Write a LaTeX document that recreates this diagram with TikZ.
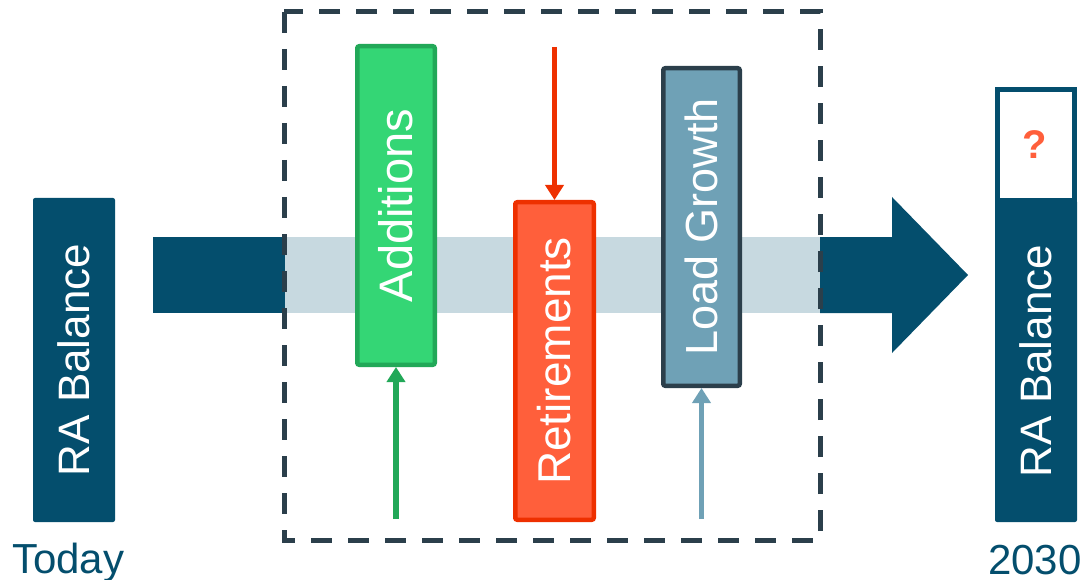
\documentclass[tikz,border=0pt]{standalone}
\usepackage{fontspec}
\setmainfont{Liberation Sans}
\usetikzlibrary{arrows.meta}
\definecolor{darkteal}{HTML}{044E6D}
\definecolor{lightbar}{HTML}{C7D9E0}
\definecolor{dashcol}{HTML}{2B3F4B}
\definecolor{addfill}{HTML}{34D675}
\definecolor{addline}{HTML}{22A858}
\definecolor{retfill}{HTML}{FF5F3B}
\definecolor{retline}{HTML}{EE3000}
\definecolor{loadfill}{HTML}{6FA1B6}
\definecolor{loadline}{HTML}{2B3F4B}
\tikzset{
  bigtext/.style={font=\fontsize{44}{50}\selectfont, text=white, rotate=90, inner sep=0pt},
  balbox/.style={fill=darkteal, rounded corners=2pt, minimum width=82pt, inner sep=0pt},
  stepbox/.style={line width=4.5pt, rounded corners=2pt, inner sep=0pt},
  flowarrow/.style={line width=5.5pt, -{Triangle[width=18pt,length=15pt]}},
  yearlabel/.style={font=\fontsize{42}{50}\selectfont, text=darkteal, anchor=base west, inner sep=0pt}
}
\begin{document}
\begin{tikzpicture}[x=1pt,y=-1pt]
\useasboundingbox (0,0) rectangle (1089,580);
% flow bar
\fill[darkteal] (153,237) rectangle (285,313);
\fill[lightbar] (285,237) rectangle (820,313);
\fill[darkteal] (820,237) -- (892,237) -- (892,197) -- (968,275) -- (892,353) -- (892,313) -- (820,313) -- cycle;
% left balance
\node[balbox, minimum height=324pt] (today) at (74,360) {};
\node[bigtext] (todaytext) at (today.center) {RA Balance};
% right balance
\node[draw=darkteal, line width=5pt, fill=white, minimum width=77pt, minimum height=111pt, inner sep=0pt] (unknown) at (1036,145) {};
\node[font=\fontsize{40}{46}\selectfont\bfseries, text=retfill, inner sep=0pt] (qmark) at (1035,145) {?};
\node[balbox, minimum height=322pt] (future) at (1036,361) {};
\node[bigtext] (futuretext) at (future.center) {RA Balance};
% step boxes
\node[stepbox, draw=addline, fill=addfill, minimum width=77.5pt, minimum height=318.5pt] (add) at (396,205.5) {};
\node[bigtext, font=\fontsize{47}{52}\selectfont] (addtext) at (add.center) {Additions};
\node[stepbox, draw=retline, fill=retfill, minimum width=78.5pt, minimum height=317.5pt] (ret) at (554.5,361) {};
\node[bigtext, font=\fontsize{46}{52}\selectfont] (rettext) at (ret.center) {Retirements};
\node[stepbox, draw=loadline, fill=loadfill, minimum width=76.5pt, minimum height=317.5pt] (load) at (701.5,227) {};
\node[bigtext, font=\fontsize{45}{52}\selectfont] (loadtext) at (load.center) {Load Growth};
% arrows
\coordinate (addsrc) at (396,519);
\coordinate (retsrc) at (554.5,47);
\coordinate (loadsrc) at (701.5,519);
\draw[flowarrow, addline] (addsrc) -- (add.south);
\draw[flowarrow, retline] (retsrc) -- (ret.north);
\draw[flowarrow, loadfill] (loadsrc) -- (load.south);
% dashed frame
\draw[dashcol, line width=5pt, dash pattern=on 21pt off 16pt] (284,12) rectangle (820,540);
% labels
\node[yearlabel] (todaylbl) at (12,573) {Today};
\node[yearlabel] (yearlbl) at (988,574) {2030};
\end{tikzpicture}
\end{document}
